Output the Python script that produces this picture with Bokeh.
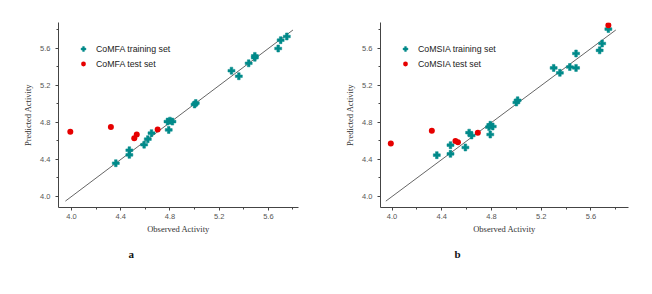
from bokeh.plotting import figure
from bokeh.models import Range1d, FixedTicker, PrintfTickFormatter, Legend, LegendItem, Title
from bokeh.layouts import row
from bokeh.embed import file_html
from bokeh.resources import INLINE

# ---- data ----
comfa_train_obs = [4.36, 4.47, 4.47, 4.59, 4.62, 4.65, 4.78, 4.80, 4.82, 4.79,
                   5.00, 5.01, 5.30, 5.36, 5.44, 5.49, 5.49, 5.68, 5.70, 5.75]
comfa_train_pred = [4.36, 4.50, 4.45, 4.56, 4.62, 4.685, 4.81, 4.82, 4.81, 4.72,
                    4.995, 5.01, 5.36, 5.30, 5.44, 5.50, 5.52, 5.60, 5.69, 5.73]
comfa_test_obs = [3.99, 4.32, 4.51, 4.53, 4.70]
comfa_test_pred = [4.70, 4.75, 4.63, 4.67, 4.725]

comsia_train_obs = [4.36, 4.47, 4.47, 4.59, 4.62, 4.64, 4.78, 4.79, 4.81, 4.79,
                    5.00, 5.01, 5.30, 5.35, 5.43, 5.48, 5.48, 5.67, 5.69, 5.74]
comsia_train_pred = [4.447, 4.461, 4.555, 4.53, 4.69, 4.66, 4.75, 4.775, 4.757, 4.67,
                     5.016, 5.04, 5.39, 5.337, 5.40, 5.39, 5.546, 5.58, 5.654, 5.81]
comsia_test_obs = [3.99, 4.32, 4.51, 4.53, 4.69, 5.74]
comsia_test_pred = [4.573, 4.71, 4.60, 4.587, 4.69, 5.85]

major_ticks = [4.0, 4.4, 4.8, 5.2, 5.6]
minor_ticks = [4.2, 4.6, 5.0, 5.4, 5.8]
diag = [3.95, 5.8]

TEAL = "#008a8a"
RED = "#e60000"


def make_panel(train_x, train_y, test_x, test_y, name, letter,
               x_range, left, frame_w, right, letter_off):
    p = figure(width=left + frame_w + right, height=286,
               x_range=Range1d(*x_range), y_range=Range1d(3.881, 5.881),
               output_backend="svg", toolbar_location=None,
               min_border_left=left, min_border_right=right,
               min_border_top=22, min_border_bottom=79)
    p.outline_line_color = None
    p.background_fill_color = "white"
    p.border_fill_color = "white"
    p.xgrid.visible = False
    p.ygrid.visible = False

    for ax in (p.xaxis[0], p.yaxis[0]):
        ax.ticker = FixedTicker(ticks=major_ticks, minor_ticks=minor_ticks)
        ax.formatter = PrintfTickFormatter(format="%.1f")
        ax.axis_line_color = "#444444"
        ax.major_tick_line_color = "#444444"
        ax.minor_tick_line_color = "#444444"
        ax.major_tick_in = 0
        ax.major_tick_out = 3
        ax.minor_tick_in = 0
        ax.minor_tick_out = 2
        ax.major_label_text_font = "Liberation Sans"
        ax.major_label_text_font_size = "7.5px"
        ax.major_label_text_color = "#555555"
        ax.axis_label_text_font = "Liberation Serif"
        ax.axis_label_text_font_size = "8.5px"
        ax.axis_label_text_font_style = "normal"
        ax.axis_label_text_color = "#333333"
    p.xaxis.axis_label = "Observed Activity"
    p.yaxis.axis_label = "Predicted Activity"
    p.xaxis.major_label_standoff = 3
    p.xaxis.axis_label_standoff = 2
    p.yaxis.major_label_standoff = 5
    p.yaxis.axis_label_standoff = 4

    p.line(diag, diag, line_color="#666666", line_width=1)
    r_train = p.scatter(train_x, train_y, marker="plus", size=7,
                        fill_color=TEAL, line_color=TEAL, line_width=0.5)
    r_test = p.scatter(test_x, test_y, marker="circle", size=6,
                       fill_color=RED, line_color=None)

    legend = Legend(items=[LegendItem(label=f"{name} training set", renderers=[r_train]),
                           LegendItem(label=f"{name} test set", renderers=[r_test])],
                    location="top_left", margin=19, padding=0, spacing=0,
                    glyph_width=12, glyph_height=15, label_height=15,
                    label_standoff=7, label_text_font="Liberation Sans",
                    label_text_font_size="8.8px", label_text_color="#222222",
                    background_fill_alpha=0, border_line_color=None)
    p.add_layout(legend)

    p.add_layout(Title(text=letter, align="left", offset=letter_off, standoff=18,
                       text_font="Liberation Serif", text_font_style="bold",
                       text_font_size="11px", text_color="#111111"), "below")
    return p


pa = make_panel(comfa_train_obs, comfa_train_pred, comfa_test_obs, comfa_test_pred,
                "CoMFA", "a", (3.894, 5.845), 58, 240, 28, 70)
pb = make_panel(comsia_train_obs, comsia_train_pred, comsia_test_obs, comsia_test_pred,
                "CoMSIA", "b", (3.907, 5.902), 54, 248, 16, 74)

layout = row(pa, pb)
open("out.html", "w").write(file_html(layout, INLINE))
